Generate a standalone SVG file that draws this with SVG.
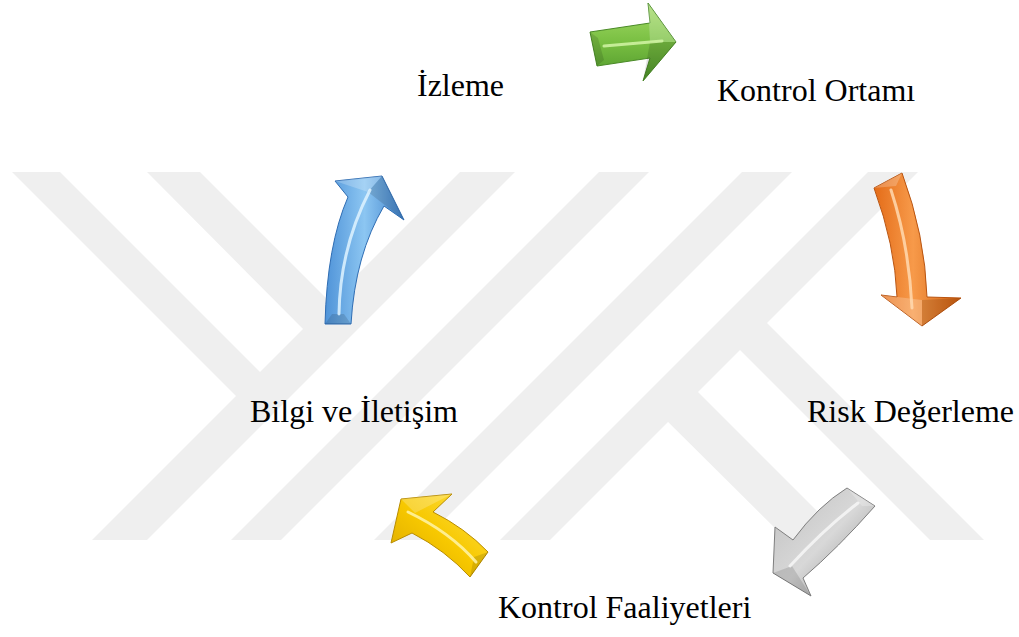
<svg xmlns="http://www.w3.org/2000/svg" width="1019" height="637" viewBox="0 0 1019 637">
  <defs>
    <style>
      .lbl { font-family: "Liberation Serif", "Times New Roman", serif; font-size: 32px; fill: #000; }
      .wm { fill: #efefef; }
      .edge { stroke-width: 1; stroke-linejoin: round; }
      .hl { fill: none; stroke-linecap: round; stroke-width: 3; opacity: 0.85; }
      .facetL { fill: #ffffff; opacity: 0.22; }
      .facetD { fill: #000000; opacity: 0.12; }
    </style>
    <linearGradient id="gGreen" x1="0" y1="0" x2="0" y2="1">
      <stop offset="0" stop-color="#a6dc68"/>
      <stop offset="0.5" stop-color="#79bf42"/>
      <stop offset="1" stop-color="#4e962a"/>
    </linearGradient>
    <linearGradient id="gOrange" x1="0" y1="0" x2="1" y2="0">
      <stop offset="0" stop-color="#e46c18"/>
      <stop offset="0.45" stop-color="#f79a4a"/>
      <stop offset="1" stop-color="#d25f0e"/>
    </linearGradient>
    <linearGradient id="gGray" x1="0" y1="0" x2="1" y2="1">
      <stop offset="0" stop-color="#c0c0c0"/>
      <stop offset="0.5" stop-color="#d8d8d8"/>
      <stop offset="1" stop-color="#8a8a8a"/>
    </linearGradient>
    <linearGradient id="gYellow" x1="1" y1="0" x2="0" y2="1">
      <stop offset="0" stop-color="#ffe24a"/>
      <stop offset="0.5" stop-color="#f7c800"/>
      <stop offset="1" stop-color="#d8a400"/>
    </linearGradient>
    <linearGradient id="gBlue" x1="0" y1="0" x2="1" y2="0">
      <stop offset="0" stop-color="#4f93d8"/>
      <stop offset="0.5" stop-color="#8cc6f2"/>
      <stop offset="1" stop-color="#3f82cc"/>
    </linearGradient>
  </defs>

  <rect width="1019" height="637" fill="#ffffff"/>

  <g id="watermark">
    <polygon class="wm" points="12,172 60,172 280,392 256,416"/>
    <polygon class="wm" points="147,172 200,172 345,317 318,344"/>
    <polygon class="wm" points="460,172 515,172 147,540 92,540"/>
    <polygon class="wm" points="599,172 649,172 281,540 231,540"/>
    <polygon class="wm" points="742,172 792,172 424,540 374,540"/>
    <polygon class="wm" points="868,172 918,172 550,540 500,540"/>
    <polygon class="wm" points="752,308 984,540 930,540 725,335"/>
    <polygon class="wm" points="683,377 846,540 787,540 653,407"/>
  </g>

  <g id="connectors">
    <g id="arrow-green">
      <path class="edge" fill="url(#gGreen)" stroke="#4a8a27" d="M590,32 L650,23 L648,3 L676,42 L643,81 L650,58 L597,66 Z"/>
      <path class="facetL" d="M648,3 L676,42 L650,42 Z"/>
      <path class="facetD" d="M676,42 L643,81 L650,42 Z"/>
      <path class="facetD" d="M590,32 L597,66 L604,60 L598,38 Z"/>
      <path class="hl" stroke="#d2f5a6" d="M604,46 L662,41"/>
    </g>
    <g id="arrow-orange">
      <path class="edge" fill="url(#gOrange)" stroke="#b95410" d="M874,188 L902,173 Q925,235 927,297 L961,298 L922,326 L881,295 L897,297 Q895,245 874,188 Z"/>
      <path class="facetL" d="M881,295 L922,326 L922,300 Z"/>
      <path class="facetD" d="M961,298 L922,326 L922,300 Z"/>
      <path class="facetL" d="M874,188 L902,173 L896,186 Z"/>
      <path class="hl" stroke="#ffd9b0" d="M891,190 Q909,245 912,308"/>
    </g>
    <g id="arrow-gray">
      <path class="edge" fill="url(#gGray)" stroke="#7e7e7e" d="M847,488 L875,506 Q838,548 803,578 L811,596 L773,573 L775,527 L793,540 Q818,506 847,488 Z"/>
      <path class="facetL" d="M847,488 L875,506 L862,506 Z"/>
      <path class="facetD" d="M773,573 L811,596 L792,566 Z"/>
      <path class="hl" stroke="#f7f7f7" d="M858,503 Q825,528 790,566"/>
    </g>
    <g id="arrow-yellow">
      <path class="edge" fill="url(#gYellow)" stroke="#b88c00" d="M401,499 L452,494 L433,512 Q465,528 488,552 L470,577 Q445,550 412,533 L391,543 Z"/>
      <path class="facetL" d="M401,499 L452,494 L415,513 Z"/>
      <path class="facetD" d="M488,552 L470,577 L474,557 Z"/>
      <path class="hl" stroke="#fff4a8" d="M408,512 Q450,532 476,562"/>
    </g>
    <g id="arrow-blue">
      <path class="edge" fill="url(#gBlue)" stroke="#2f6db3" d="M325,324 Q327,245 348,197 L335,181 L382,176 L404,220 L384,206 Q355,255 351,324 Z"/>
      <path class="facetL" d="M335,181 L382,176 L368,192 Z"/>
      <path class="facetD" d="M382,176 L404,220 L368,192 Z"/>
      <path class="facetD" d="M325,324 L351,324 L344,314 L332,314 Z"/>
      <path class="hl" stroke="#dff3ff" d="M339,314 Q340,248 370,190"/>
    </g>
  </g>

  <g id="node-izleme"><text class="lbl" x="417" y="96">İzleme</text></g>
  <g id="node-kontrol-ortami"><text class="lbl" x="717" y="101">Kontrol Ortamı</text></g>
  <g id="node-risk-degerleme"><text class="lbl" x="807" y="422">Risk Değerleme</text></g>
  <g id="node-kontrol-faaliyetleri"><text class="lbl" x="498" y="618">Kontrol Faaliyetleri</text></g>
  <g id="node-bilgi-iletisim"><text class="lbl" x="250" y="422">Bilgi ve İletişim</text></g>
</svg>
